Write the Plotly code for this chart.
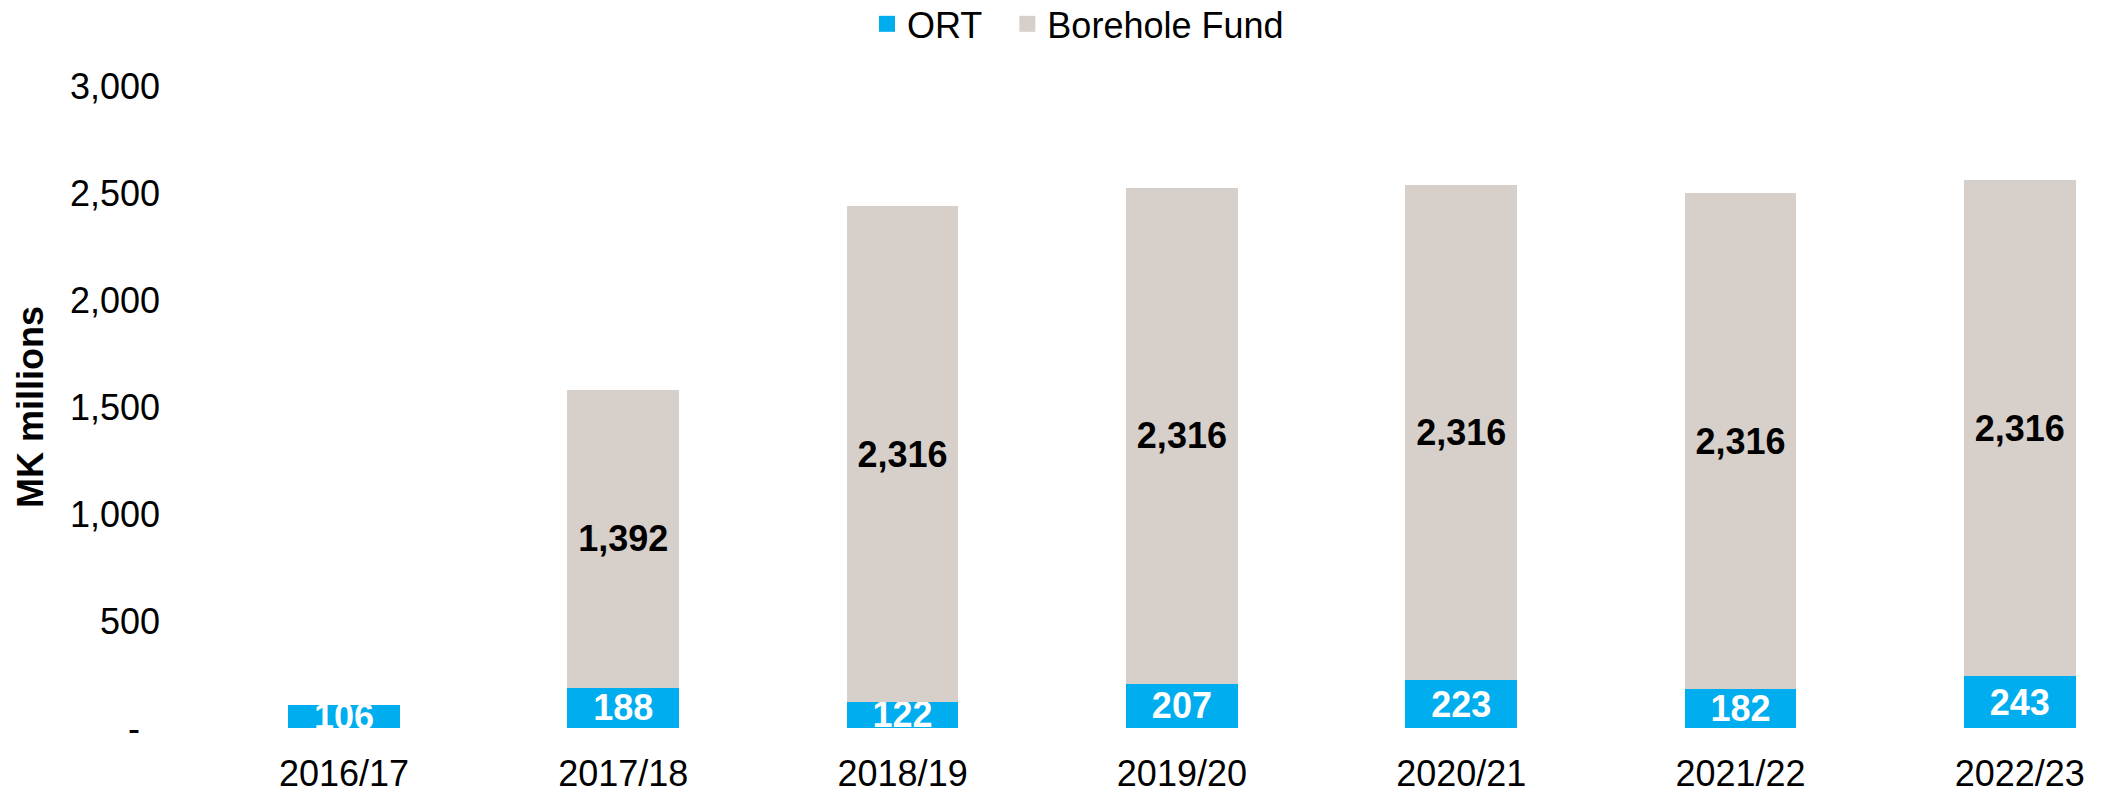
import plotly.graph_objects as go

years = ["2016/17", "2017/18", "2018/19", "2019/20", "2020/21", "2021/22", "2022/23"]
ort = [106, 188, 122, 207, 223, 182, 243]
borehole = [None, 1392, 2316, 2316, 2316, 2316, 2316]

y_tickvals = [0, 500, 1000, 1500, 2000, 2500, 3000]
y_ticktext = ["-\u00a0\u00a0", "500", "1,000", "1,500", "2,000", "2,500", "3,000"]

BLUE = "#00ADEF"
GREY = "#D7CFC9"
FONT = "Liberation Sans, Arial, sans-serif"

fig = go.Figure()
fig.add_trace(go.Bar(
    x=years, y=ort, name="ORT", marker=dict(color=BLUE, line=dict(width=0)),
    texttemplate="%{y:,.0f}", textposition="inside", insidetextanchor="middle",
    textangle=0, constraintext="none",
    textfont=dict(family=FONT, size=36, color="white", weight="bold"),
    showlegend=False,
))
fig.add_trace(go.Bar(
    x=years, y=borehole, name="Borehole Fund", marker=dict(color=GREY, line=dict(width=0)),
    texttemplate="%{y:,.0f}", textposition="inside", insidetextanchor="middle",
    textangle=0, constraintext="none",
    textfont=dict(family=FONT, size=36, color="black", weight="bold"),
    showlegend=False,
))
# legend entries
fig.add_trace(go.Scatter(x=[None], y=[None], mode="markers", name="ORT\u00a0\u00a0",
                         marker=dict(symbol="square", size=16, color=BLUE)))
fig.add_trace(go.Scatter(x=[None], y=[None], mode="markers", name="Borehole Fund",
                         marker=dict(symbol="square", size=16, color=GREY)))

L, R, T, B = 175, 0, 86, 65
W, H = 2101, 793
fig.update_layout(
    width=W, height=H,
    barmode="stack", bargap=0.6,
    plot_bgcolor="white", paper_bgcolor="white",
    margin=dict(l=L, r=R, t=T, b=B, pad=0, autoexpand=False),
    font=dict(family=FONT, size=36, color="black"),
    legend=dict(orientation="h", x=0.3593, xanchor="left", y=1.0967, yanchor="middle",
                traceorder="normal", font=dict(size=36), bgcolor="rgba(0,0,0,0)",
                itemclick=False),
    xaxis=dict(
        type="category", range=[(L - 344) / 279.3, (W - 344) / 279.3],
        showgrid=False, zeroline=False, showline=False, ticks="",
        tickfont=dict(size=36), ticklabelstandoff=21,
    ),
    yaxis=dict(
        range=[0, 3000], tickvals=y_tickvals, ticktext=y_ticktext,
        showgrid=False, zeroline=False, showline=False, ticks="",
        tickfont=dict(size=36), ticklabelstandoff=14,
        title=dict(text="<b>MK millions</b>", font=dict(size=36), standoff=15),
    ),
)

fig.write_html(
    "out.html",
    config={"displayModeBar": False},
    post_script="document.body.style.margin='0';document.body.style.overflow='hidden';",
)
